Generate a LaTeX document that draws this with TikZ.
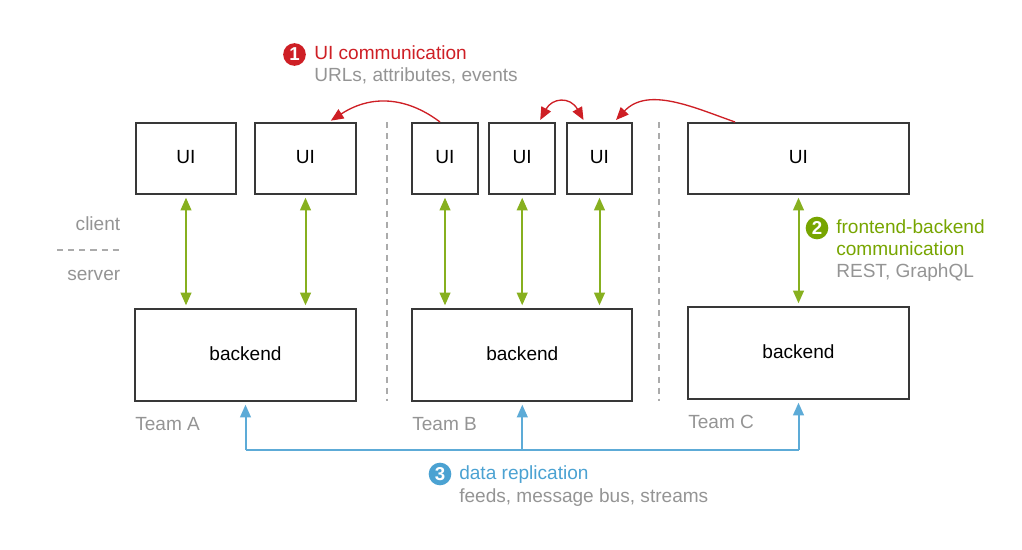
\documentclass[tikz,border=0pt]{standalone}
\usepackage{fontspec}
\setmainfont{Liberation Sans}
\usetikzlibrary{arrows.meta,positioning}
\definecolor{cred}{HTML}{CE1F25}
\definecolor{cgreen}{HTML}{77A500}
\definecolor{cblue}{HTML}{4BA2D2}
\definecolor{cgray}{HTML}{949494}
\definecolor{cdash}{HTML}{ABABAB}
\tikzset{
  x=0.75pt,y=-0.75pt,
  box/.style={draw=black!78,line width=1.5pt,inner sep=0pt,font=\fontsize{14.3}{16}\selectfont,text=black,text depth=2pt,text height=9pt},
  txt/.style={inner sep=0pt,anchor=base west,font=\fontsize{14.3}{16}\selectfont},
  gray label/.style={txt,text=cgray},
  badge/.style={circle,inner sep=0pt,minimum size=17pt,text=white,font=\fontsize{14}{14}\bfseries\selectfont},
  divider/.style={draw=cdash,line width=1.5pt,dash pattern=on 4.5pt off 3.8pt},
  bigtip/.tip={Triangle[length=9.5pt,width=8pt]},
  greenlink/.style={draw=cgreen!88,line width=1.5pt,bigtip-bigtip,shorten >=2pt,shorten <=2pt},
  redlink/.style={draw=cred,line width=1pt,-bigtip},
  redboth/.style={draw=cred,line width=1pt,bigtip-bigtip},
  bluelink/.style={draw=cblue!90,line width=1.5pt},
}
\begin{document}
\begin{tikzpicture}
\useasboundingbox (0,0) rectangle (1022,550);
% UI boxes
\node[box,minimum width=75.6pt,minimum height=53.25pt] (ua1) at (186,158.5) {UI};
\node[box,minimum width=75.2pt,minimum height=53.25pt] (ua2) at (305.5,158.5) {UI};
\node[box,minimum width=49.2pt,minimum height=53.25pt] (ub1) at (445,158.5) {UI};
\node[box,minimum width=49.2pt,minimum height=53.25pt] (ub2) at (522.2,158.5) {UI};
\node[box,minimum width=49.2pt,minimum height=53.25pt] (ub3) at (599.5,158.5) {UI};
\node[box,minimum width=165.2pt,minimum height=53.25pt] (uc) at (798.5,158.5) {UI};
% backends
\node[box,minimum width=165.2pt,minimum height=69pt] (ba) at (245.5,355) {\raisebox{-0.7pt}{backend}};
\node[box,minimum width=165.2pt,minimum height=69pt] (bb) at (522.3,355) {\raisebox{-0.7pt}{backend}};
\node[box,minimum width=165.2pt,minimum height=69pt] (bc) at (798.5,353) {\raisebox{-0.7pt}{backend}};
% dividers
\coordinate (d1t) at (387,122); \coordinate (d1b) at (387,401);
\coordinate (d2t) at (659,122); \coordinate (d2b) at (659,401);
\coordinate (d3l) at (57,250); \coordinate (d3r) at (120,250);
\draw[divider] (d1t) -- (d1b);
\draw[divider] (d2t) -- (d2b);
\draw[divider,line width=1pt,dash pattern=on 4.6pt off 3.75pt] (d3l) -- (d3r);
% frontend-backend links
\draw[greenlink] (ua1.south) -- (ua1.south |- ba.north);
\draw[greenlink] (ua2.south) -- (ua2.south |- ba.north);
\draw[greenlink] (ub1.south) -- (ub1.south |- bb.north);
\draw[greenlink] (ub2.south) -- (ub2.south |- bb.north);
\draw[greenlink] (ub3.south) -- (ub3.south |- bb.north);
\draw[greenlink] (uc.south) -- (bc.north);
% UI links
\draw[redlink] ([xshift=-3.75pt]ub1.north) .. controls (411,100) and (375,92) .. ([xshift=19pt,yshift=1pt]ua2.north);
\draw[redboth] ([xshift=13.5pt,yshift=1.5pt]ub2.north) .. controls (552,98) and (570,96) .. ([xshift=-12pt,yshift=1.5pt]ub3.north);
\draw[redlink] ([xshift=-47.6pt]uc.north) .. controls (695,108) and (648,86) .. ([xshift=12.4pt,yshift=1.5pt]ub3.north);
% data replication
\coordinate (busl) at (ba.south |- 0,450);
\coordinate (busm) at (bb.south |- 0,450);
\coordinate (busr) at (bc.south |- 0,450);
\draw[bluelink,-bigtip,shorten >=2pt] (busm) -- (bb.south);
\draw[bluelink,-bigtip,shorten >=2pt] (busl) -- (ba.south);
\draw[bluelink,-bigtip,shorten >=2pt] (busr) -- (bc.south);
\draw[bluelink,line width=1.2pt] (busl) -- (busr);
% labels
\node[gray label,anchor=base east] (tc) at (120.5,230.5) {client};
\node[gray label,anchor=base east] (ts) at (120.5,280.5) {server};
\node[gray label] (ta) at (135,430) {Team A};
\node[gray label] (tb) at (412,430) {Team B};
\node[gray label] (tcc) at (688,428) {Team C};
\node[badge,fill=cred] (n1) at (294.5,54.5) {1};
\node[txt,text=cred] (l1) at (314,59) {UI communication};
\node[gray label] (l1b) at (314,81) {URLs, attributes, events};
\node[badge,fill=cgreen] (n2) at (817,228) {2};
\node[txt,text=cgreen] (l2) at (836,233) {frontend-backend};
\node[txt,text=cgreen] (l2b) at (836,255) {communication};
\node[gray label] (l2c) at (836,277) {REST, GraphQL};
\node[badge,fill=cblue] (n3) at (440,474) {3};
\node[txt,text=cblue] (l3) at (459,479) {data replication};
\node[gray label] (l3b) at (459,502) {feeds, message bus, streams};
\end{tikzpicture}
\end{document}
